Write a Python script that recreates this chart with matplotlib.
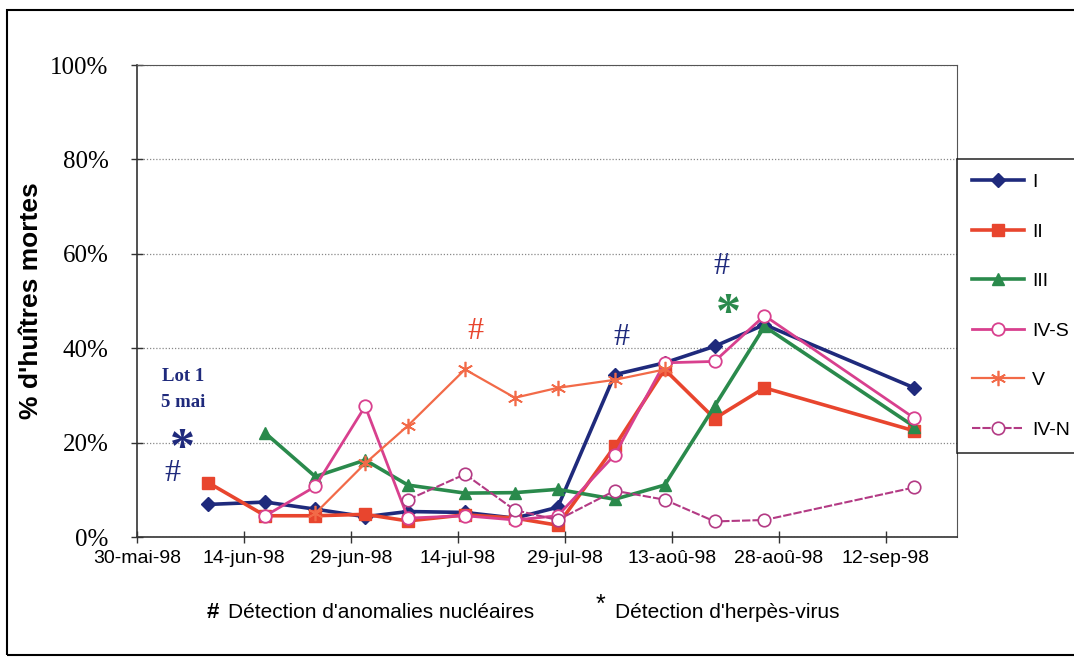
import numpy as np
import matplotlib
matplotlib.use('Agg')
import matplotlib.pyplot as plt
from matplotlib.patches import Rectangle
from datetime import datetime, timedelta

nan = np.nan

# dates de prelevement
dates = ['1998-06-09', '1998-06-17', '1998-06-24', '1998-07-01', '1998-07-07',
         '1998-07-15', '1998-07-22', '1998-07-28', '1998-08-05', '1998-08-12',
         '1998-08-19', '1998-08-26', '1998-09-16']

# % d'huitres mortes par lot
lot_I = [6.9, 7.4, 5.9, 4.3, 5.4, 5.2, 4.0, 6.3, 34.4, 36.9, 40.4, 45.0, 31.6]
lot_II = [11.5, 4.5, 4.5, 4.8, 3.4, 4.7, 4.0, 2.5, 19.2, 35.5, 25.1, 31.6, 22.5]
lot_III = [nan, 22.0, 12.8, 16.3, 11.0, 9.3, 9.4, 10.1, 8.0, 11.0, 27.7, 44.6, 23.4]
lot_IVS = [nan, 4.5, 10.7, 27.7, 4.0, 4.5, 3.6, 4.5, 17.4, 36.9, 37.2, 46.9, 25.2]
lot_V = [nan, nan, 5.0, 15.6, 23.6, 35.5, 29.5, 31.6, 33.3, 35.5, nan, nan, nan]
lot_IVN = [nan, nan, nan, nan, 7.9, 13.3, 5.7, 3.6, 9.8, 7.9, 3.3, 3.6, 10.5]

tick_labels = ['30-mai-98', '14-jun-98', '29-jun-98', '14-jul-98', '29-jul-98',
               '13-aoû-98', '28-aoû-98', '12-sep-98']

x = [datetime.strptime(d, '%Y-%m-%d') for d in dates]
debut = datetime(1998, 5, 30)

navy = '#1f2a7c'
rouge = '#e8452e'
vert = '#2a8a4c'
magenta = '#d8408e'
orange = '#f26a48'
violet = '#b33a84'

fig = plt.figure(figsize=(10.74, 6.62), dpi=100)
ax = fig.add_axes([137/1074, 1-537/662, 820/1074, 472/662])

ax.plot(x, np.array(lot_I)/100, color=navy, lw=2.6, marker='D', ms=7, label='I')
ax.plot(x, np.array(lot_II)/100, color=rouge, lw=2.6, marker='s', ms=8, label='II')
ax.plot(x, np.array(lot_III)/100, color=vert, lw=2.6, marker='^', ms=9, label='III')
ax.plot(x, np.array(lot_IVS)/100, color=magenta, lw=2.0, marker='o', ms=9,
        mfc='white', mew=1.3, label='IV-S')
ax.plot(x, np.array(lot_V)/100, color=orange, lw=1.6, marker=(6, 2, 0), ms=11,
        mew=1.2, label='V')
ax.plot(x, np.array(lot_IVN)/100, color=violet, lw=1.5, ls=(0, (4, 1)), marker='o',
        ms=9, mfc='white', mew=1.2, label='IV-N')

ax.set_ylim(0, 1)
ax.set_xlim(debut, debut + timedelta(days=115))
ax.set_yticks(np.arange(0, 1.01, 0.2))
ax.set_yticklabels(['0%', '20%', '40%', '60%', '80%', '100%'],
                   fontfamily='Liberation Serif', fontsize=18)
ax.set_xticks([debut + timedelta(days=15*i) for i in range(8)])
ax.set_xticklabels(tick_labels, fontfamily='Liberation Sans', fontsize=14)
ax.tick_params(axis='both', direction='inout', length=9, width=1, colors='#333333')
ax.tick_params(axis='y', pad=16, labelcolor='black')
ax.tick_params(axis='x', pad=5, labelcolor='black')
ax.grid(axis='y', color='#888888', ls=(0, (1, 1.5)), lw=0.9)
for s in ['top', 'right']:
    ax.spines[s].set_color('#555555')
for s in ['left', 'bottom']:
    ax.spines[s].set_color('#333333')
    ax.spines[s].set_linewidth(1.2)

ax.set_ylabel("% d'huîtres mortes", fontfamily='Liberation Sans', fontweight='bold',
              fontsize=19, labelpad=8)
ax.yaxis.set_label_coords(-94/820, 0.5)

def jour(d):
    return debut + timedelta(days=d)

# annotations
ax.text(jour(6.4), 0.34, 'Lot 1', color=navy, fontfamily='Liberation Serif',
        fontweight='bold', fontsize=13.5, ha='center', va='center')
ax.text(jour(6.4), 0.285, '5 mai', color=navy, fontfamily='Liberation Serif',
        fontweight='bold', fontsize=13.5, ha='center', va='center')
ax.text(jour(6.4), 0.185, '*', color=navy, fontfamily='Liberation Serif',
        fontweight='bold', fontsize=36, ha='center', va='center')
ax.text(jour(4.9), 0.135, '#', color=navy, fontfamily='Liberation Serif',
        fontsize=23, ha='center', va='center')
ax.text(jour(47.4), 0.435, '#', color=rouge, fontfamily='Liberation Serif',
        fontsize=23, ha='center', va='center')
ax.text(jour(67.9), 0.423, '#', color=navy, fontfamily='Liberation Serif',
        fontsize=23, ha='center', va='center')
ax.text(jour(82.0), 0.573, '#', color=navy, fontfamily='Liberation Serif',
        fontsize=23, ha='center', va='center')
ax.text(jour(82.9), 0.47, '*', color=vert, fontfamily='Liberation Serif',
        fontweight='bold', fontsize=36, ha='center', va='center')

leg = fig.legend(loc='upper left', bbox_to_anchor=(957/1074, 1-159/662),
                 borderaxespad=0, fancybox=False, edgecolor='black',
                 prop={'family': 'Liberation Sans', 'size': 14},
                 labelspacing=1.64, handlelength=2.7, handletextpad=0.4,
                 borderpad=0.75)
leg.get_frame().set_linewidth(1.2)

fig.text(213/1074, 1-612/662, '#', fontfamily='Liberation Sans', fontweight='bold',
         fontsize=16, ha='center', va='center')
fig.text(228/1074, 1-612/662, "Détection d'anomalies nucléaires",
         fontfamily='Liberation Sans', fontsize=15, ha='left', va='center')
fig.text(600/1074, 1-605/662, '*', fontfamily='Liberation Sans',
         fontsize=18, ha='center', va='center')
fig.text(615/1074, 1-612/662, "Détection d'herpès-virus",
         fontfamily='Liberation Sans', fontsize=15, ha='left', va='center')

# cadre
fig.patches.append(Rectangle((7/1074, 7/662), 1.1, 645/662, transform=fig.transFigure,
                             fill=False, edgecolor='black', lw=1.5, clip_on=False))

fig.savefig('out.png', dpi=100)
